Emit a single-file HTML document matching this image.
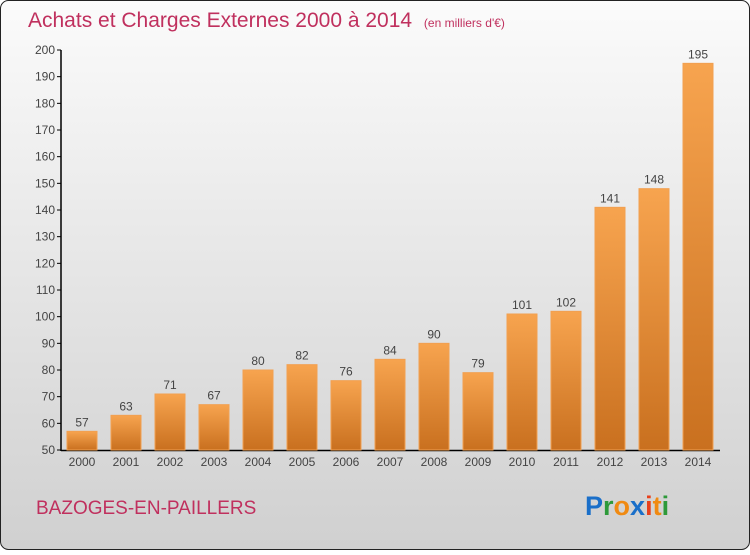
<!DOCTYPE html>
<html><head><meta charset="utf-8"><style>
html,body{margin:0;padding:0}
body{width:750px;height:550px;overflow:hidden;font-family:"Liberation Sans",sans-serif}
</style></head><body>
<svg id="chart" width="750" height="550" xmlns="http://www.w3.org/2000/svg">
<defs>
<linearGradient id="bg" x1="0" y1="0" x2="0" y2="1"><stop offset="0" stop-color="#fbfbfb"/><stop offset="1" stop-color="#d0d0d0"/></linearGradient>
<linearGradient id="bar" x1="0" y1="0" x2="0" y2="1"><stop offset="0" stop-color="#f7a44f"/><stop offset="1" stop-color="#c9701f"/></linearGradient>
</defs>
<rect x="0.5" y="0.5" width="749" height="549" rx="8" fill="url(#bg)" stroke="#222"/>
<text x="28" y="27" font-size="21" fill="#c0305e">Achats et Charges Externes 2000 à 2014 <tspan font-size="12" dx="6">(en milliers d'€)</tspan></text>
<text x="36" y="514" font-size="19" fill="#c0305e">BAZOGES-EN-PAILLERS</text>
<g font-size="27" font-weight="bold">
<text x="585" y="515"><tspan fill="#1a6fc9">P</tspan><tspan fill="#2e9a3a">r</tspan><tspan fill="#f08a12">o</tspan><tspan fill="#1a6fc9">x</tspan><tspan fill="#e8401c">i</tspan><tspan fill="#f08a12">t</tspan><tspan fill="#2e9a3a">i</tspan></text>
</g>
<g id="axes"></g>
<g id="bars"></g>
</svg>
<script>
const years=["2000","2001","2002","2003","2004","2005","2006","2007","2008","2009","2010","2011","2012","2013","2014"];
const values=[57,63,71,67,80,82,76,84,90,79,101,102,141,148,195];
const yTicks=[50,60,70,80,90,100,110,120,130,140,150,160,170,180,190,200];
const NS="http://www.w3.org/2000/svg";
const y=v=>450-(v-50)*400/150;
const x=i=>82+i*44;
function mk(t,a,p){const e=document.createElementNS(NS,t);for(const k in a)e.setAttribute(k,a[k]);p.appendChild(e);return e;}
const ax=document.getElementById('axes'),bg=document.getElementById('bars');
yTicks.forEach(v=>{
 const l=mk('line',{x1:57,x2:61,y1:y(v),y2:y(v),stroke:'#000'},ax);
 
 
 const t=mk('text',{x:55,y:y(v)+4,'text-anchor':'end','font-size':12,fill:'#444'},ax);
 t.textContent=v;
 
 
});
const ya=mk('line',{x1:61,x2:61,y1:y(200),y2:451,stroke:'#000','stroke-width':1.5},ax);


const xa=mk('line',{x1:61,x2:720,y1:450.5,y2:450.5,stroke:'#000','stroke-width':1.5},ax);


years.forEach((yr,i)=>{
 const r=mk('rect',{x:x(i)-15,y:y(values[i]),width:30,height:450-y(values[i]),fill:'url(#bar)',stroke:'#f2a050','stroke-width':1},bg);
 
 
 const v=mk('text',{x:x(i),y:y(values[i])-5,'text-anchor':'middle','font-size':12,fill:'#444'},bg);
 v.textContent=values[i];
 
 
 const t=mk('text',{x:x(i),y:466,'text-anchor':'middle','font-size':12,fill:'#444'},bg);
 t.textContent=yr;
 
 
});
</script>
</body></html>
